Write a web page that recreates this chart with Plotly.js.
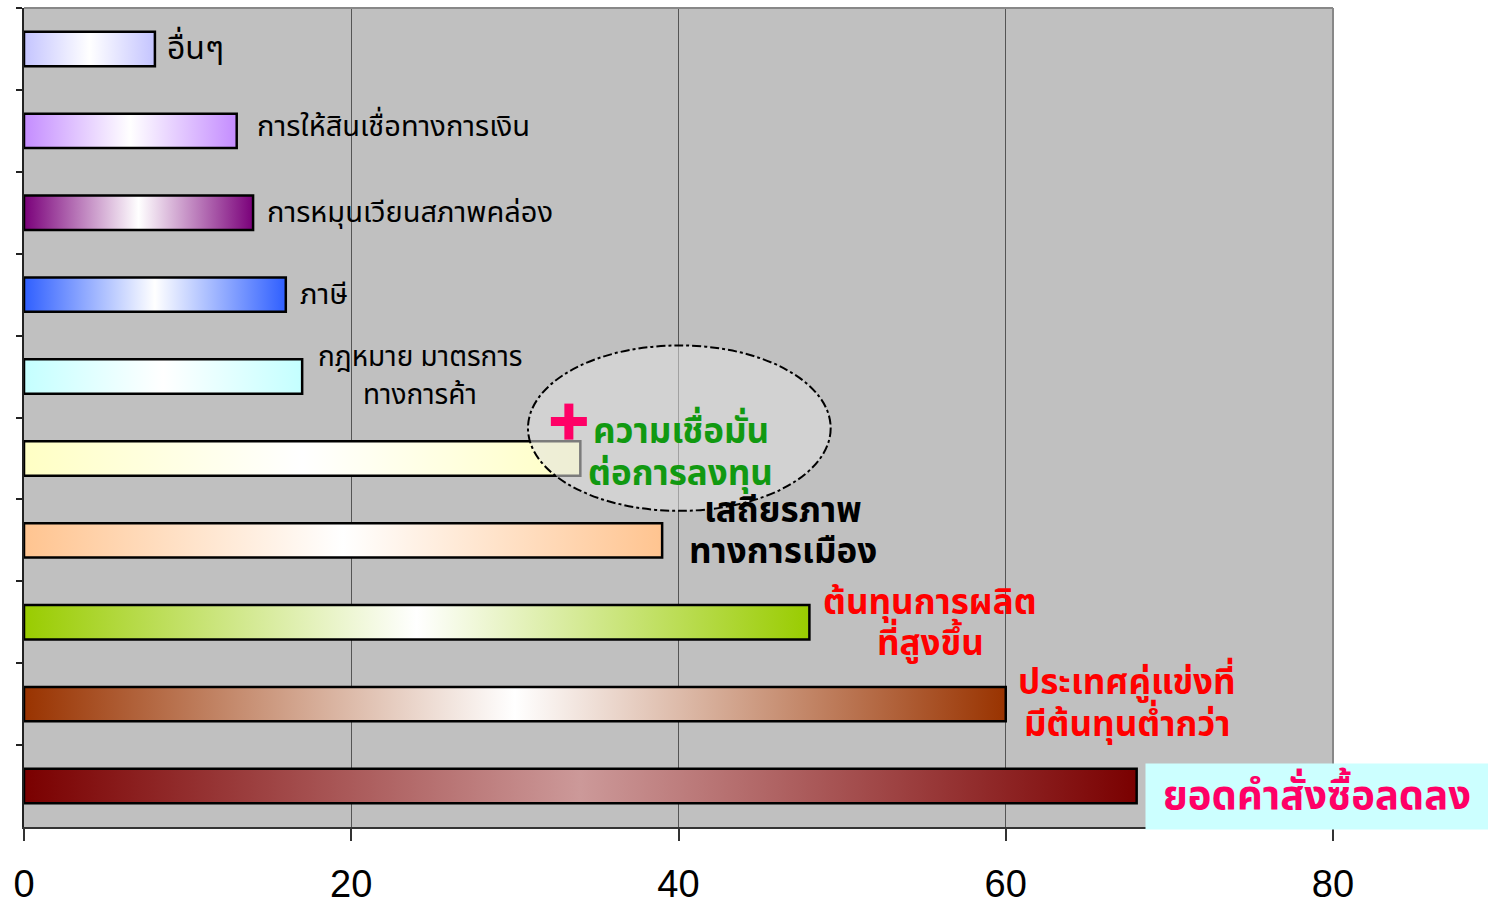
<!DOCTYPE html>
<html>
<head>
<meta charset="utf-8">
<script src="https://cdn.plot.ly/plotly-3.0.1.min.js"></script>
<style>
html,body{margin:0;padding:0;background:#fff;}
#chart{width:1488px;height:904px;}
</style>
</head>
<body>
<div id="chart"></div>
<script>
// ---- data ----
var categories = ['อื่นๆ','การให้สินเชื่อทางการเงิน','การหมุนเวียนสภาพคล่อง','ภาษี','กฎหมาย มาตรการทางการค้า','ความเชื่อมั่นต่อการลงทุน','เสถียรภาพทางการเมือง','ต้นทุนการผลิตที่สูงขึ้น','ประเทศคู่แข่งที่มีต้นทุนต่ำกว่า','ยอดคำสั่งซื้อลดลง'];
var values = [8, 13, 14, 16, 17, 34, 39, 48, 60, 68];
var labelTexts = ['อื่นๆ','การให้สินเชื่อทางการเงิน','การหมุนเวียนสภาพคล่อง','ภาษี','กฎหมาย มาตรการ<br>ทางการค้า','ความเชื่อมั่น<br>ต่อการลงทุน','เสถียรภาพ<br>ทางการเมือง','ต้นทุนการผลิต<br>ที่สูงขึ้น','ประเทศคู่แข่งที่<br>มีต้นทุนต่ำกว่า','ยอดคำสั่งซื้อลดลง'];
var xTickVals = [0, 20, 40, 60, 80];
var xTickText = ['0', '20', '40', '60', '80'];

// ---- styles ----
var edgeColors = ['#c4c4ff','#c48cff','#7a007a','#2f5fff','#c4ffff','#ffffc4','#ffc490','#99cc00','#993300','#7a0000'];
var midColors  = ['#ffffff','#ffffff','#ffffff','#ffffff','#ffffff','#ffffff','#ffffff','#ffffff','#ffffff','#cc9999'];
var thaiFont = 'Noto Sans Thai, Noto Sans, Tahoma, sans-serif';

// label placement: x in axis units, anchor, per-line y shifts (px), font
var labelStyle = [
  {x: 8.6,  anchor:'left',   shifts:[0],         size: 32, color:'#000', bold:false},
  {x: 14.1, anchor:'left',   shifts:[4],         size: 29, color:'#000', bold:false},
  {x: 14.7, anchor:'left',   shifts:[0],         size: 29, color:'#000', bold:false},
  {x: 16.75,anchor:'left',   shifts:[0],         size: 29, color:'#000', bold:false},
  {x: 24.2, anchor:'center', shifts:[19, -19],   size: 28, color:'#000', bold:false},
  {x: 40.15,anchor:'center', shifts:[26, -16],   size: 35, color:'#119911', bold:true},
  {x: 46.4, anchor:'center', shifts:[29, -12],   size: 35, color:'#000', bold:true},
  {x: 55.4, anchor:'center', shifts:[19, -22],   size: 35, color:'#ff0000', bold:true},
  {x: 67.4, anchor:'center', shifts:[21, -21],   size: 35, color:'#ff0000', bold:true},
  {x: 79.05,anchor:'center', shifts:[-10],       size: 40, color:'#ff0066', bold:true}
];

var annotations = [];
labelTexts.forEach(function(t, i){
  var s = labelStyle[i];
  t.split('<br>').forEach(function(line, k){
    var a = {
      x: s.x, y: i, xref: 'x', yref: 'y',
      text: s.bold ? '<b>' + line + '</b>' : line,
      showarrow: false, xanchor: s.anchor, yanchor: 'middle', yshift: s.shifts[k],
      align: 'center',
      font: {family: thaiFont, size: s.size, color: s.color}
    };
    if (i === 9) {
      a.bgcolor = '#ccffff';
      a.borderpad = 0;
      a.width = 342;
      a.height = 65;
    }
    annotations.push(a);
  });
});

var data = [{
  type: 'bar',
  orientation: 'h',
  y: categories,
  x: values,
  width: 0.42,
  marker: {color: edgeColors, line: {color: '#000', width: 2.5}},
  hoverinfo: 'x+y'
}];

var plusStyle = {x: 33.3, y: 4.55, half: 18, thick: 9, color: '#ff0066'};

var layout = {
  width: 1488, height: 904,
  margin: {l: 24, r: 155, t: 8, b: 77},
  paper_bgcolor: '#ffffff',
  plot_bgcolor: '#c0c0c0',
  showlegend: false,
  xaxis: {
    range: [0, 80], tickvals: xTickVals, ticktext: xTickText,
    showgrid: true, gridcolor: '#555555', gridwidth: 1,
    zeroline: false, showline: true, linecolor: '#333', linewidth: 1.5,
    ticks: 'outside', ticklen: 12, tickcolor: '#333', tickwidth: 1.5,
    ticklabelstandoff: 11,
    tickfont: {family: 'Liberation Sans, Arial, sans-serif', size: 38, color: '#000'}
  },
  yaxis: {
    type: 'category', autorange: 'reversed',
    showticklabels: false, showgrid: false, zeroline: false,
    showline: true, linecolor: '#222', linewidth: 2,
    ticks: 'outside', tickson: 'boundaries', ticklen: 6, tickcolor: '#222', tickwidth: 1.5
  },
  shapes: [
    {type: 'line', xref: 'paper', yref: 'paper', x0: 0, x1: 1, y0: 1, y1: 1, line: {color: '#888', width: 2}, layer: 'above'},
    {type: 'line', xref: 'paper', yref: 'paper', x0: 1, x1: 1, y0: 0, y1: 1, line: {color: '#888', width: 2}, layer: 'above'},
    {type: 'circle', xref: 'x', yref: 'y', x0: 30.8, x1: 49.3, y0: 3.62, y1: 5.64,
     line: {color: '#000', width: 2, dash: 'dashdot'}, fillcolor: 'rgba(224,224,224,0.55)', layer: 'above'},
    {type: 'line', xref: 'x', yref: 'y', xsizemode: 'pixel', ysizemode: 'pixel',
     xanchor: plusStyle.x, yanchor: plusStyle.y, x0: -plusStyle.half, x1: plusStyle.half, y0: 0, y1: 0,
     line: {color: plusStyle.color, width: plusStyle.thick}, layer: 'above'},
    {type: 'line', xref: 'x', yref: 'y', xsizemode: 'pixel', ysizemode: 'pixel',
     xanchor: plusStyle.x, yanchor: plusStyle.y, x0: 0, x1: 0, y0: -plusStyle.half, y1: plusStyle.half,
     line: {color: plusStyle.color, width: plusStyle.thick}, layer: 'above'}
  ],
  annotations: annotations,
  bargap: 0.58
};

Plotly.newPlot('chart', data, layout, {displayModeBar: false, responsive: false}).then(function(gd){
  var ns = 'http://www.w3.org/2000/svg';
  var svg = gd.querySelector('svg.main-svg');
  var defs = svg.querySelector('defs');
  if (!defs) { defs = document.createElementNS(ns, 'defs'); svg.insertBefore(defs, svg.firstChild); }
  var paths = gd.querySelectorAll('.barlayer .trace .point path');
  paths.forEach(function(p, i){
    var g = document.createElementNS(ns, 'linearGradient');
    g.setAttribute('id', 'bargrad' + i);
    g.setAttribute('x1', '0'); g.setAttribute('x2', '1');
    g.setAttribute('y1', '0'); g.setAttribute('y2', '0');
    [[0, edgeColors[i]], [0.5, midColors[i]], [1, edgeColors[i]]].forEach(function(st){
      var s = document.createElementNS(ns, 'stop');
      s.setAttribute('offset', st[0]);
      s.setAttribute('stop-color', st[1]);
      g.appendChild(s);
    });
    defs.appendChild(g);
    p.style.fill = 'url(#bargrad' + i + ')';
  });
});
</script>
</body>
</html>
